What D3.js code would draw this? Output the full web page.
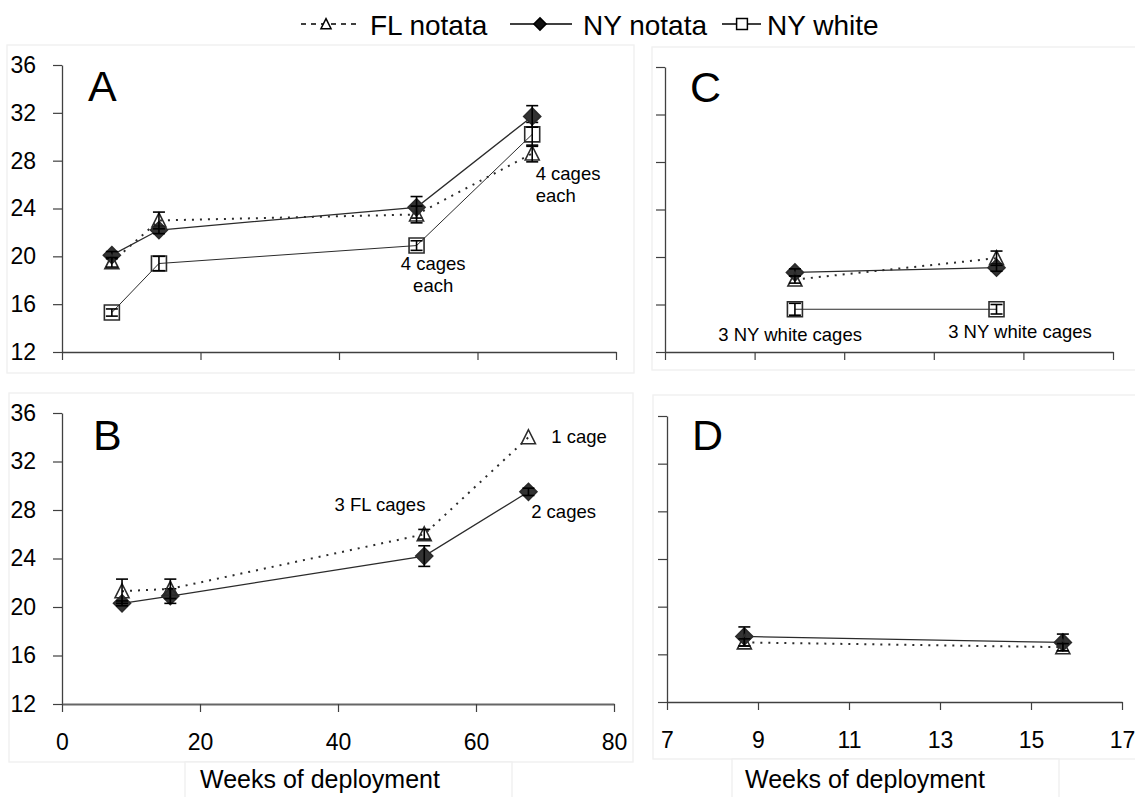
<!DOCTYPE html>
<html>
<head>
<meta charset="utf-8">
<script src="https://cdn.jsdelivr.net/npm/d3@7"></script>
<style>
  body { margin: 0; background: #fff; }
  text { font-family: Arial, "Liberation Sans", sans-serif; fill: #000; }
</style>
</head>
<body>
<script>
// values (mean +/- error bar)
var yTicks = [12, 16, 20, 24, 28, 32, 36];
var xTicksLong = [0, 20, 40, 60, 80];
var xTicksShort = [7, 9, 11, 13, 15, 17];
var seriesNames = ['FL notata', 'NY notata', 'NY white'];

var weeksA = [7.2, 14, 51.2, 67.9];
var flNotataA = [19.5, 23.0, 23.5, 28.6];
var flNotataErrA = [0.4, 0.7, 0.7, 0.7];
var nyNotataA = [20.1, 22.2, 24.1, 31.7];
var nyNotataErrA = [0.3, 0.3, 0.9, 0.9];
var nyWhiteA = [15.3, 19.4, 20.9, 30.2];
var nyWhiteErrA = [0.3, 0.6, 0.4, 1.0];

var weeksB = [8.7, 15.7, 52.5, 67.6];
var flNotataB = [21.3, 21.5, 26.0, 34.0];
var flNotataErrB = [1.0, 0.8, 0.4, 0];
var nyNotataB = [20.3, 20.9, 24.2, 29.5];
var nyNotataErrB = [0.2, 0.6, 0.85, 0.3];

var weeksC = [9.9, 14.4];
var flNotataC = [18.1, 19.9];
var flNotataErrC = [0.3, 0.6];
var nyNotataC = [18.7, 19.1];
var nyNotataErrC = [0.3, 0.3];
var nyWhiteC = [15.6, 15.6];
var nyWhiteErrC = [0.5, 0.4];

var weeksD = [8.7, 15.7];
var flNotataD = [17.0, 16.6];
var flNotataErrD = [0.3, 0.3];
var nyNotataD = [17.5, 17.0];
var nyNotataErrD = [0.8, 0.7];

// cage-count notes: text lines, week, value
var notesA = [
  { lines: ['4 cages', 'each'], week: 68.4, value: 26.4, anchor: 'start' },
  { lines: ['4 cages', 'each'], week: 53.6, value: 18.85, anchor: 'middle' }
];
var notesB = [
  { lines: ['1 cage'], week: 70.9, value: 33.55, anchor: 'start' },
  { lines: ['3 FL cages'], week: 39.5, value: 27.9, anchor: 'start' },
  { lines: ['2 cages'], week: 68.0, value: 27.3, anchor: 'start' }
];
var notesC = [
  { lines: ['3 NY white cages'], week: 8.19, value: 12.9, anchor: 'start' },
  { lines: ['3 NY white cages'], week: 13.32, value: 13.18, anchor: 'start' }
];

var styles = {
  fl: { dash: '2,6', width: 2, fill: 'none', shape: 'triangle' },
  nyNotata: { dash: null, width: 1.3, fill: '#333', shape: 'diamond' },
  nyWhite: { dash: null, width: 1, fill: 'none', shape: 'square' }
};

var panels = [
  { letter: 'A', letterPos: [88, 101], frame: [7, 45, 627, 328],
    xRange: [62, 616], yRange: [352, 65], xDomain: [0, 80], xTicks: xTicksLong,
    yLabels: true, xLabels: false, axisColor: '#404040', axisWidth: 1.3, notes: notesA,
    series: [
      { key: 'nyWhite', weeks: weeksA, values: nyWhiteA, errs: nyWhiteErrA },
      { key: 'nyNotata', weeks: weeksA, values: nyNotataA, errs: nyNotataErrA },
      { key: 'fl', weeks: weeksA, values: flNotataA, errs: flNotataErrA }
    ] },
  { letter: 'B', letterPos: [93, 450], frame: [9, 393, 624, 369],
    xRange: [62, 614], yRange: [704, 413], xDomain: [0, 80], xTicks: xTicksLong,
    yLabels: true, xLabels: true, axisColor: '#666', axisWidth: 2, notes: notesB,
    series: [
      { key: 'nyNotata', weeks: weeksB, values: nyNotataB, errs: nyNotataErrB },
      { key: 'fl', weeks: weeksB, values: flNotataB, errs: flNotataErrB }
    ] },
  { letter: 'C', letterPos: [690, 102], frame: [652, 47, 500, 323],
    xRange: [665, 1113], yRange: [352, 67], xDomain: [7, 17], xTicks: xTicksShort,
    yLabels: false, xLabels: false, axisColor: '#404040', axisWidth: 1.3, notes: notesC,
    series: [
      { key: 'nyWhite', weeks: weeksC, values: nyWhiteC, errs: nyWhiteErrC },
      { key: 'nyNotata', weeks: weeksC, values: nyNotataC, errs: nyNotataErrC },
      { key: 'fl', weeks: weeksC, values: flNotataC, errs: flNotataErrC }
    ] },
  { letter: 'D', letterPos: [692, 450], frame: [653, 395, 500, 364],
    xRange: [667, 1122], yRange: [702, 416], xDomain: [7, 17], xTicks: xTicksShort,
    yLabels: false, xLabels: true, axisColor: '#404040', axisWidth: 1.3, notes: [],
    series: [
      { key: 'nyNotata', weeks: weeksD, values: nyNotataD, errs: nyNotataErrD },
      { key: 'fl', weeks: weeksD, values: flNotataD, errs: flNotataErrD }
    ] }
];

var markerPath = function(shape, k) {
  if (typeof k === 'undefined') k = 1;
  if (shape === 'diamond') {
    var r = 8.5 * k;
    return 'M0,' + (-r) + 'L' + r + ',0L0,' + r + 'L' + (-r) + ',0Z';
  }
  if (shape === 'square') {
    var s = 7.5 * k;
    return 'M' + (-s) + ',' + (-s) + 'H' + s + 'V' + s + 'H' + (-s) + 'Z';
  }
  return 'M0,' + (-7.5 * k) + 'L' + (7 * k) + ',' + (6.5 * k) + 'H' + (-7 * k) + 'Z';
};

var svg = d3.select('body').append('svg')
  .attr('width', 1135)
  .attr('height', 797);

// Legend
var legend = svg.append('g').attr('class', 'legend');
var legendItems = [
  { key: 'fl', x1: 301, x2: 361, mx: 326, tx: 370 },
  { key: 'nyNotata', x1: 510, x2: 572, mx: 540, tx: 583 },
  { key: 'nyWhite', x1: 722, x2: 761, mx: 742, tx: 767 }
];
legendItems.forEach(function(item, i) {
  var st = styles[item.key];
  legend.append('line')
    .attr('x1', item.x1).attr('x2', item.x2)
    .attr('y1', 24).attr('y2', 24)
    .attr('stroke', '#000')
    .attr('stroke-width', 1.5)
    .attr('stroke-dasharray', item.key === 'fl' ? '5,5' : null);
  legend.append('path')
    .attr('transform', 'translate(' + item.mx + ',24)')
    .attr('d', markerPath(st.shape, 0.72))
    .attr('fill', st.fill === 'none' ? '#fff' : '#111')
    .attr('stroke', '#000')
    .attr('stroke-width', 1.5);
  legend.append('text')
    .attr('x', item.tx).attr('y', 35)
    .attr('font-size', 28)
    .text(seriesNames[i]);
});

var renderPanel = function(p) {
  var g = svg.append('g').attr('class', 'panel panel-' + p.letter);

  g.append('rect')
    .attr('x', p.frame[0]).attr('y', p.frame[1])
    .attr('width', p.frame[2]).attr('height', p.frame[3])
    .attr('fill', '#fff')
    .attr('stroke', '#efefef')
    .attr('stroke-width', 1.3);

  var x = d3.scaleLinear().domain(p.xDomain).range(p.xRange);
  var y = d3.scaleLinear().domain([12, 36]).range(p.yRange);

  var yAxis = d3.axisLeft(y)
    .tickValues(yTicks)
    .tickSize(9)
    .tickSizeOuter(0)
    .tickPadding(17)
    .tickFormat(p.yLabels ? d3.format('d') : '');
  var xAxis = d3.axisBottom(x)
    .tickValues(p.xTicks)
    .tickSize(8)
    .tickSizeOuter(0)
    .tickPadding(22)
    .tickFormat(p.xLabels ? d3.format('d') : '');

  var ya = g.append('g')
    .attr('transform', 'translate(' + p.xRange[0] + ',0)')
    .call(yAxis);
  var xa = g.append('g')
    .attr('transform', 'translate(0,' + p.yRange[0] + ')')
    .call(xAxis);
  [ya, xa].forEach(function(a) {
    a.selectAll('text').attr('font-size', 23).attr('font-family', 'Arial, "Liberation Sans", sans-serif').attr('fill', '#000');
    a.selectAll('line').attr('stroke', '#404040').attr('stroke-width', 1.2);
  });
  ya.select('.domain').attr('stroke', '#404040').attr('stroke-width', 1.3);
  xa.select('.domain').attr('stroke', p.axisColor).attr('stroke-width', p.axisWidth);

  g.append('text')
    .attr('x', p.letterPos[0]).attr('y', p.letterPos[1])
    .attr('font-size', 43)
    .text(p.letter);

  var line = d3.line()
    .x(function(d) { return x(d.week); })
    .y(function(d) { return y(d.value); });

  var rows = p.series.map(function(s) {
    return {
      key: s.key,
      points: s.weeks.map(function(w, i) { return { week: w, value: s.values[i], err: s.errs[i] }; })
    };
  });

  // Lines
  rows.forEach(function(r) {
    var st = styles[r.key];
    g.append('path')
      .datum(r.points)
      .attr('d', line)
      .attr('fill', 'none')
      .attr('stroke', '#2b2b2b')
      .attr('stroke-width', st.width)
      .attr('stroke-dasharray', st.dash);
  });

  // Markers and error bars
  rows.forEach(function(r) {
    var st = styles[r.key];
    g.selectAll(null)
      .data(r.points)
      .enter().append('path')
      .attr('transform', function(d) { return 'translate(' + x(d.week) + ',' + y(d.value) + ')'; })
      .attr('d', markerPath(st.shape))
      .attr('fill', st.fill)
      .attr('stroke', '#2b2b2b')
      .attr('stroke-width', 1.6);

    var bars = g.selectAll(null)
      .data(r.points.filter(function(d) { return d.err > 0; }))
      .enter().append('g')
      .attr('stroke', '#000')
      .attr('stroke-width', 1.6);
    bars.append('line')
      .attr('x1', function(d) { return x(d.week); })
      .attr('x2', function(d) { return x(d.week); })
      .attr('y1', function(d) { return y(d.value - d.err); })
      .attr('y2', function(d) { return y(d.value + d.err); });
    [-1, 1].forEach(function(sign) {
      bars.append('line')
        .attr('x1', function(d) { return x(d.week) - 6; })
        .attr('x2', function(d) { return x(d.week) + 6; })
        .attr('y1', function(d) { return y(d.value + sign * d.err); })
        .attr('y2', function(d) { return y(d.value + sign * d.err); });
    });
  });

  // Notes
  p.notes.forEach(function(n) {
    var t = g.append('text')
      .attr('x', x(n.week)).attr('y', y(n.value))
      .attr('font-size', 18.5)
      .attr('text-anchor', n.anchor);
    n.lines.forEach(function(l, i) {
      t.append('tspan')
        .attr('x', x(n.week))
        .attr('dy', i === 0 ? 0 : 22)
        .text(l);
    });
  });
};

panels.forEach(renderPanel);

// x-axis titles sit in their own boxes over the frames
[[185, 762, 200], [732, 759, 745]].forEach(function(b) {
  svg.append('rect')
    .attr('x', b[0]).attr('y', b[1])
    .attr('width', 327).attr('height', 60)
    .attr('fill', '#fff')
    .attr('stroke', '#efefef')
    .attr('stroke-width', 1.3);
  svg.append('text')
    .attr('x', b[2]).attr('y', 788)
    .attr('font-size', 25)
    .text('Weeks of deployment');
});
</script>
</body>
</html>
